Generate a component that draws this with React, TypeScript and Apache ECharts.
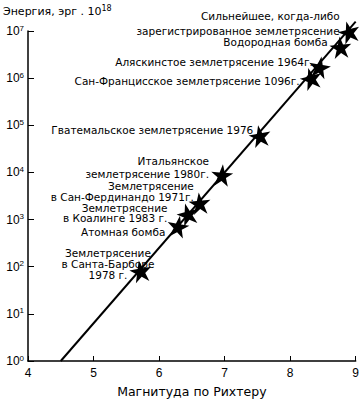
import React, { useEffect, useRef } from "react";
import * as echarts from "echarts";

// Events: magnitude (Richter) and energy (erg · 10^18)
const eventNames = [
  "Землетрясение\nв Санта-Барборе\n1978 г.",
  "Атомная бомба",
  "Землетрясение\nв Коалинге 1983 г.",
  "Землетрясение\nв Сан-Фердинандо 1971г.",
  "Итальянское\nземлетрясение 1980г.",
  "Гватемальское землетрясение 1976",
  "Сан-Францисское землетрясение 1096г.",
  "Аляскинстое землетрясение 1964г.",
  "Водородная бомба",
  "Сильнейшее, когда-либо\nзарегистрированное землетрясение",
];
const magnitudes = [5.72, 6.29, 6.44, 6.62, 6.96, 7.54, 8.32, 8.45, 8.77, 8.9];
const energies = [80, 710, 1300, 2200, 8700, 59000, 980000, 1700000, 4500000, 9500000];

// Trend line endpoints
const lineMagnitudes = [4.5, 9.0];
const lineEnergies = [1, 15800000];

// Axis ticks
const xTicks = [4, 5, 6, 7, 8, 9];
const yExponents = [0, 1, 2, 3, 4, 5, 6, 7];

// Label placement (layout, px) relative to each star
const labelLayout: { offset: [number, number]; align: string; lineHeight: number }[] = [
  { offset: [-20, -7], align: "center", lineHeight: 11 },
  { offset: [0, 5], align: "right", lineHeight: 11 },
  { offset: [-7, -1], align: "right", lineHeight: 10.5 },
  { offset: [6, -12], align: "right", lineHeight: 10.5 },
  { offset: [-1, -8], align: "right", lineHeight: 13 },
  { offset: [6, -6], align: "right", lineHeight: 11 },
  { offset: [2, 2], align: "right", lineHeight: 11 },
  { offset: [6, -5], align: "right", lineHeight: 11 },
  { offset: [-1, -5], align: "right", lineHeight: 11 },
  { offset: [4, -9], align: "right", lineHeight: 15 },
];
const starRotations = [10, -10, 15, 5, -5, 10, 15, -10, 5, 15];

const STAR =
  "path://M50,0 L62,36 L100,36 L69,58 L81,95 L50,72 L19,95 L31,58 L0,36 L38,36 Z";

const FONT = "'DejaVu Sans', 'Liberation Sans', sans-serif";
const ARIAL = "'Liberation Sans', Arial, sans-serif";

export default function App() {
  const ref = useRef<HTMLDivElement>(null);
  useEffect(() => {
    if (!ref.current) return;
    const chart = echarts.init(ref.current, null, { renderer: "svg" });
    const scatterData = magnitudes.map((m, i) => ({
      value: [m, energies[i]],
      name: eventNames[i],
      symbolRotate: starRotations[i],
      label: {
        offset: labelLayout[i].offset,
        align: labelLayout[i].align,
        lineHeight: labelLayout[i].lineHeight,
      },
    }));
    chart.setOption({
      animation: false,
      textStyle: { fontFamily: FONT },
      grid: { left: 28, right: 3, top: 31, bottom: 35 },
      graphic: [
        {
          type: "text",
          left: 3,
          top: 4,
          style: {
            text: "{a|Энергия, эрг . 10}{b|18}",
            rich: {
              a: { fontSize: 11, lineHeight: 14, fontFamily: FONT, fill: "#000" },
              b: { fontSize: 8, lineHeight: 9, verticalAlign: "top", fontFamily: FONT, fill: "#000" },
            },
          },
        },
      ],
      xAxis: {
        type: "value",
        min: 4,
        max: 9,
        interval: 1,
        name: "Магнитуда по Рихтеру",
        nameLocation: "middle",
        nameGap: 24,
        nameTextStyle: { fontSize: 12.5, color: "#000", fontFamily: "'DejaVu Sans', sans-serif" },
        axisLine: { lineStyle: { color: "#000", width: 1.5 } },
        axisTick: { inside: true, length: 5, lineStyle: { color: "#000", width: 1 } },
        axisLabel: {
          color: "#000",
          fontSize: 12,
          margin: 6,
          fontFamily: ARIAL,
          formatter: (v: number) => (xTicks.includes(v) ? String(v) : ""),
        },
        splitLine: { show: false },
      },
      yAxis: {
        type: "log",
        logBase: 10,
        min: 1,
        max: 10000000,
        axisLine: { show: true, lineStyle: { color: "#000", width: 1.5 } },
        axisTick: { show: true, inside: true, length: 6, lineStyle: { color: "#000", width: 1 } },
        axisLabel: {
          margin: 4,
          formatter: (v: number) => {
            const e = Math.round(Math.log10(v));
            return yExponents.includes(e) ? `{a|10}{b|${e}}` : "";
          },
          rich: {
            a: { fontSize: 12, lineHeight: 14, color: "#000", fontFamily: ARIAL },
            b: { fontSize: 8, lineHeight: 9, verticalAlign: "top", color: "#000", fontFamily: ARIAL },
          },
        },
        splitLine: { show: false },
      },
      series: [
        {
          type: "line",
          data: lineMagnitudes.map((m, i) => [m, lineEnergies[i]]),
          showSymbol: false,
          clip: false,
          lineStyle: { color: "#000", width: 2 },
          z: 2,
        },
        {
          type: "scatter",
          data: scatterData,
          symbol: STAR,
          symbolSize: 22,
          itemStyle: { color: "#000", opacity: 1 },
          z: 3,
          label: {
            show: true,
            position: "left",
            distance: 0,
            formatter: (p: any) => p.name,
            color: "#000",
            fontSize: 10.5,
            lineHeight: 11,
            fontFamily: FONT,
          },
        },
      ],
    });
    return () => chart.dispose();
  }, []);
  return <div ref={ref} style={{ width: 362, height: 403, position: "absolute", left: 0, top: 0 }} />;
}
